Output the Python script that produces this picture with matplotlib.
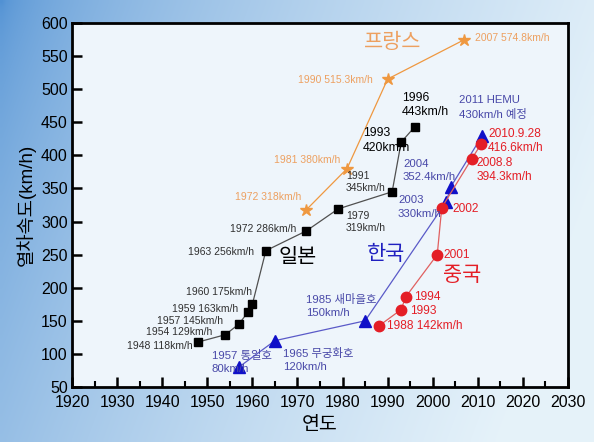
import numpy as np
import matplotlib
matplotlib.use("Agg")
import matplotlib.pyplot as plt
from matplotlib.ticker import MultipleLocator

plt.rcParams['font.family'] = ['Liberation Sans', 'Noto Sans CJK KR', 'DejaVu Sans']

# ---- data ----
japan_years = [1948, 1954, 1957, 1959, 1960, 1963, 1972, 1979, 1991, 1993, 1996]
japan_speed = [118, 129, 145, 163, 175, 256, 286, 319, 345, 420, 443]

france_years = [1972, 1981, 1990, 2007]
france_speed = [318, 380, 515.3, 574.8]

korea_years = [1957, 1965, 1985, 2003, 2004, 2011]
korea_speed = [80, 120, 150, 330, 352.4, 430]

china_years = [1988, 1993, 1994, 2001, 2002, 2008.6, 2010.7]
china_speed = [142, 167, 186, 250, 321, 394.3, 416.6]

x_ticks = list(range(1920, 2031, 10))
y_ticks = list(range(50, 601, 50))

# annotation texts
japan_labels = ["1948 118km/h", "1954 129km/h", "1957 145km/h", "1959 163km/h",
                "1960 175km/h", "1963 256km/h", "1972 286km/h", "1979\n319km/h",
                "1991\n345km/h", "1993\n420km/h", "1996\n443km/h"]
france_labels = ["1972 318km/h", "1981 380km/h", "1990 515.3km/h", "2007 574.8km/h"]
korea_labels = ["1957 통일호\n80km/h", "1965 무궁화호\n120km/h", "1985 새마을호\n150km/h",
                "2003\n330km/h", "2004\n352.4km/h", "2011 HEMU\n430km/h 예정"]
china_labels = ["1988 142km/h", "1993", "1994", "2001", "2002",
                "2008.8\n394.3km/h", "2010.9.28\n416.6km/h"]

# ---- layout (label anchor positions in data coords, alignment) ----
japan_pos = [(1946.8, 112, 'right'), (1951.0, 133, 'right'), (1953.5, 150, 'right'),
             (1956.8, 168, 'right'), (1959.9, 193, 'right'), (1960.4, 254, 'right'),
             (1969.7, 289, 'right'), (1980.8, 299, 'left'), (1980.8, 360, 'left'),
             (1984.5, 422, 'left'), (1993.2, 476, 'left')]
france_pos = [(1970.8, 337, 'right'), (1979.4, 393, 'right'), (1986.8, 514, 'right'),
              (2009.4, 577, 'left')]
korea_pos = [(1951.0, 88, 'left'), (1966.8, 91, 'left'), (1971.9, 172, 'left'),
             (1992.3, 322, 'left'), (1993.4, 377, 'left'), (2005.8, 472, 'left')]
china_pos = [(1989.9, 142, 'left'), (1995.0, 165, 'left'), (1995.8, 186, 'left'),
             (2002.3, 250, 'left'), (2004.3, 319, 'left'), (2009.8, 378, 'left'),
             (2012.3, 422, 'left')]

c_orange = '#ef9840'
c_orange_txt = '#eda060'
c_korea = '#1010c8'
c_korea_txt = '#4848a8'
c_korea_line = '#5a5ac8'
c_china = '#e41e26'
c_japan_txt = '#303030'

fig = plt.figure(figsize=(5.94, 4.42), dpi=100)

# background gradient
bg = fig.add_axes([0, 0, 1, 1], zorder=-10)
h, w = 100, 140
yy, xx = np.mgrid[0:h, 0:w]
t = np.clip((xx / w) * 0.9 + (yy / h) * 0.25, 0, 1) ** 0.55
c0 = np.array([0.32, 0.57, 0.83])
c1 = np.array([0.90, 0.95, 0.98])
img = c0[None, None, :] * (1 - t[..., None]) + c1[None, None, :] * t[..., None]
bg.imshow(img, aspect='auto', extent=[0, 1, 0, 1], interpolation='bilinear')
bg.axis('off')

ax = fig.add_axes([72 / 594, 55 / 442, 496 / 594, 364 / 442])
ax.set_facecolor('#eef5fb')

ax.plot(france_years, france_speed, '-', color=c_orange, lw=0.9, marker='*',
        ms=9, mfc=c_orange, mec=c_orange)
ax.plot(japan_years, japan_speed, '-', color='#505050', lw=0.9, marker='s',
        ms=6, mfc='black', mec='black')
ax.plot(korea_years, korea_speed, '-', color=c_korea_line, lw=0.9, marker='^',
        ms=8, mfc=c_korea, mec=c_korea)
ax.plot(china_years, china_speed, '-', color='#e06060', lw=0.9, marker='o',
        ms=7.5, mfc=c_china, mec=c_china)

for txt, (x, y, ha) in zip(japan_labels, japan_pos):
    big = txt.startswith('1993') or txt.startswith('1996')
    ax.text(x, y, txt, ha=ha, va='center', fontsize=8.8 if big else 7.5,
            color='black' if big else c_japan_txt, linespacing=1.3)
for txt, (x, y, ha) in zip(france_labels, france_pos):
    ax.text(x, y, txt, ha=ha, va='center', fontsize=7.5, color=c_orange_txt)
for txt, (x, y, ha) in zip(korea_labels, korea_pos):
    ax.text(x, y, txt, ha=ha, va='center', fontsize=8.2, color=c_korea_txt, linespacing=1.4)
for txt, (x, y, ha) in zip(china_labels, china_pos):
    ax.text(x, y, txt, ha=ha, va='center', fontsize=8.6, color=c_china, linespacing=1.25)

ax.text(1991, 570, '프랑스', ha='center', va='center', fontsize=15, color=c_orange_txt)
ax.text(1965.7, 246, '일본', ha='left', va='center', fontsize=15, color='black')
ax.text(1985.4, 251, '한국', ha='left', va='center', fontsize=15, color='#2020c0')
ax.text(2002.3, 219, '중국', ha='left', va='center', fontsize=15, color=c_china)

ax.set_xlim(1920, 2030)
ax.set_ylim(50, 600)
ax.set_xticks(x_ticks)
ax.set_yticks(y_ticks)
ax.xaxis.set_minor_locator(MultipleLocator(5))
ax.tick_params(axis='both', which='major', direction='in', length=7, width=1.8,
               labelsize=11.5, colors='black', pad=3)
ax.tick_params(axis='x', which='major', pad=6)
ax.tick_params(axis='x', which='minor', direction='in', length=4, width=1.5)
ax.tick_params(top=False, right=False)
for s in ax.spines.values():
    s.set_linewidth(2)
    s.set_color('black')

ax.set_xlabel('연도', fontsize=14, labelpad=5)
ax.set_ylabel('열차속도(km/h)', fontsize=13.5, labelpad=4)

fig.savefig('out.png', dpi=100)
